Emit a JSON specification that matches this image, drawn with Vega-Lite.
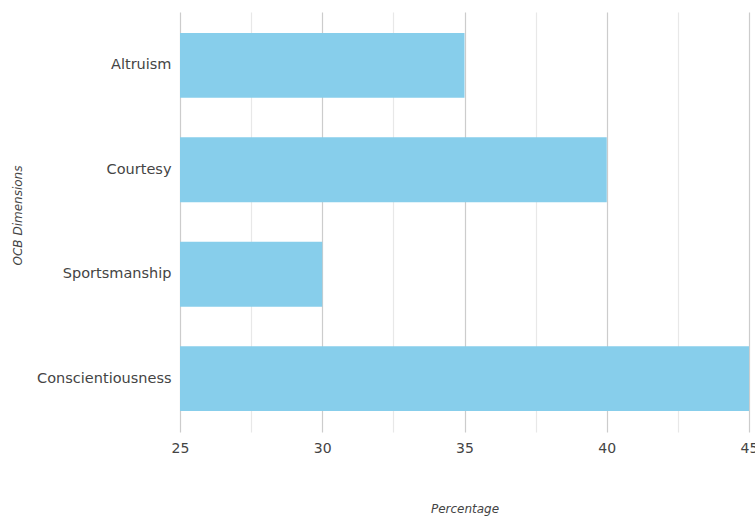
{
  "$schema": "https://vega.github.io/schema/vega-lite/v6.json",
  "width": 569,
  "height": 420,
  "autosize": {"type": "none"},
  "padding": {"left": 180, "top": 12, "right": 6, "bottom": 85},
  "background": "white",
  "config": {"view": {"stroke": null}, "font": "DejaVu Sans"},
  "data": {"values": [
    {"dimension": "Altruism", "percentage": 35},
    {"dimension": "Courtesy", "percentage": 40},
    {"dimension": "Sportsmanship", "percentage": 30},
    {"dimension": "Conscientiousness", "percentage": 45}
  ]},
  "mark": {"type": "bar", "color": "#87CEEB"},
  "encoding": {
    "y": {
      "field": "dimension", "type": "nominal", "sort": null,
      "scale": {"paddingInner": 0.38, "paddingOuter": 0.2},
      "axis": {
        "title": "OCB Dimensions", "titleFontStyle": "italic", "titleFontWeight": "normal",
        "titleFontSize": 12, "titleColor": "#444", "titlePadding": 0,
        "titleX": -163, "titleY": 203, "titleAngle": -90, "titleBaseline": "middle", "titleAlign": "center",
        "labelFontSize": 14.5, "labelColor": "#444", "labelPadding": 9, "ticks": false, "domain": false, "grid": false
      }
    },
    "x": {
      "field": "percentage", "type": "quantitative",
      "scale": {"domain": [25, 45], "nice": false, "zero": false, "clamp": true},
      "axis": {
        "title": "Percentage", "titleFontStyle": "italic", "titleFontWeight": "normal", "titleFontSize": 12,
        "titleColor": "#444", "titleY": 76, "titleBaseline": "middle",
        "values": [25, 27.5, 30, 32.5, 35, 37.5, 40, 42.5, 45],
        "labelExpr": "datum.value % 5 === 0 ? datum.label : ''",
        "labelFontSize": 14, "labelColor": "#444", "labelPadding": 9, "labelFlush": false, "labelOverlap": false,
        "ticks": false, "domain": false,
        "grid": true,
        "gridColor": {"condition": {"test": "datum.value % 5 === 0", "value": "#cccccc"}, "value": "#e8e8e8"},
        "gridWidth": 1.2
      }
    }
  }
}
